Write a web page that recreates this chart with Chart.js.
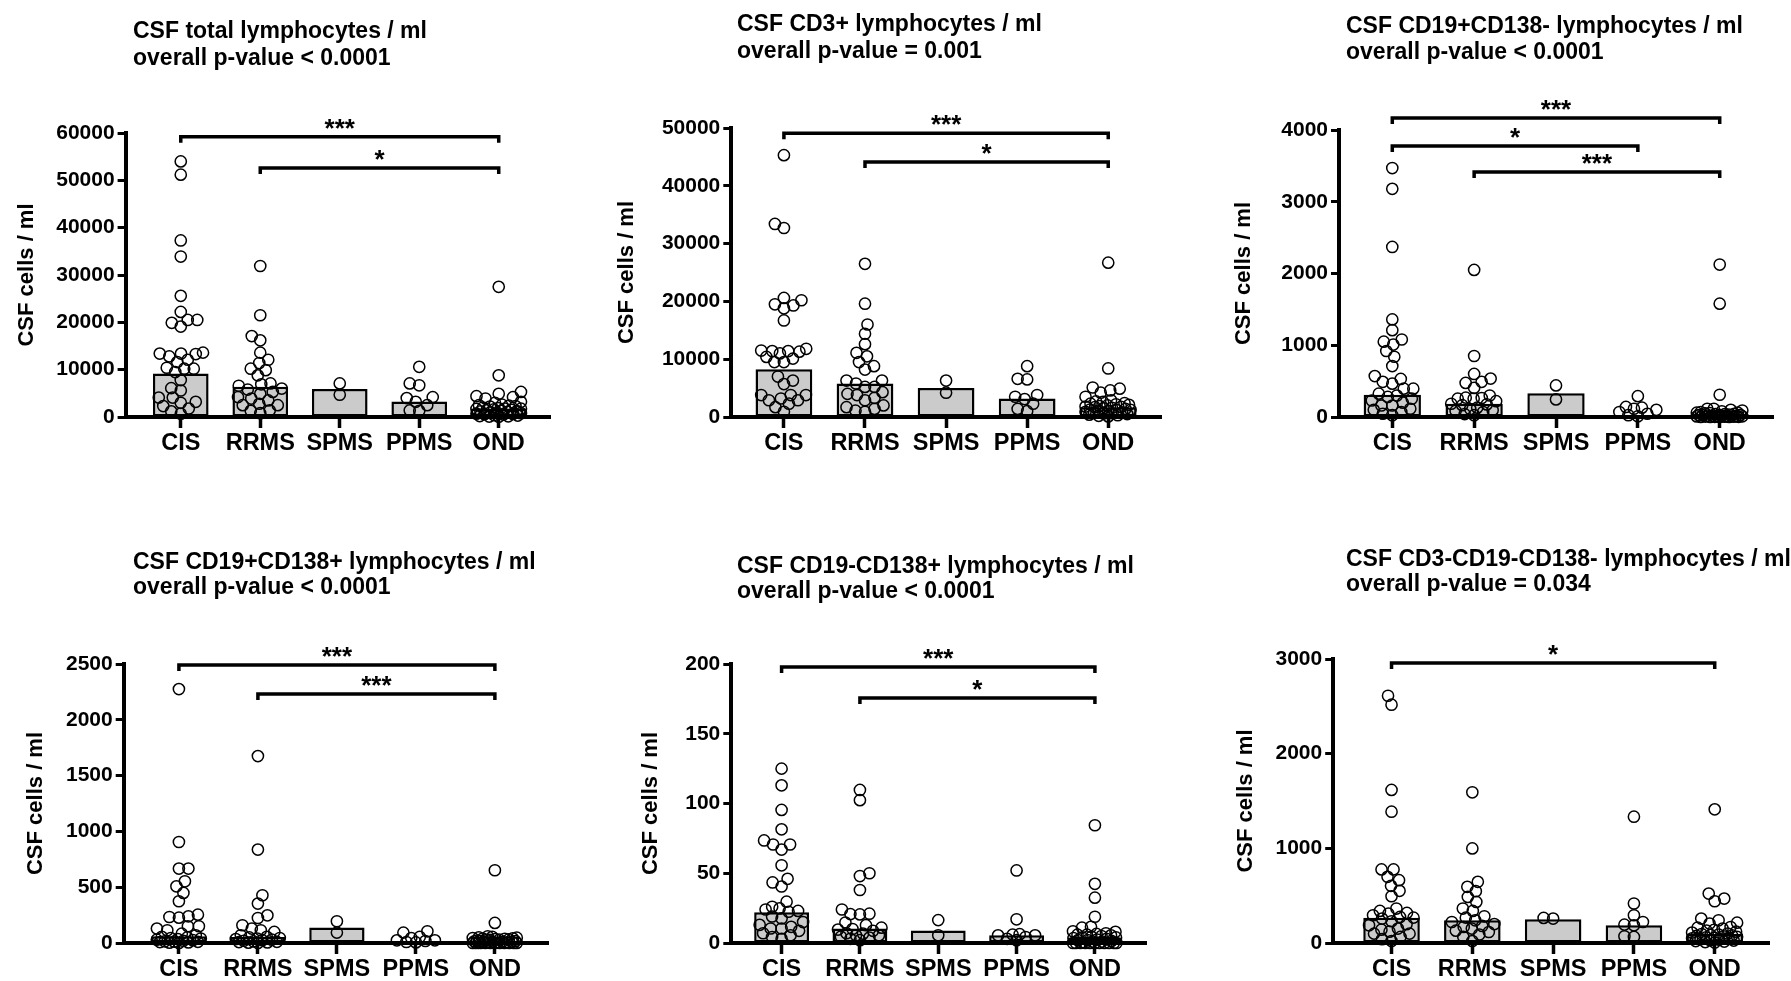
<!DOCTYPE html>
<html>
<head>
<meta charset="utf-8">
<script src="https://cdn.jsdelivr.net/npm/chart.js@4.4.0/dist/chart.umd.min.js"></script>
<style>
    body { margin: 0; background: #fff; width: 1791px; height: 981px; position: relative; overflow: hidden; }
    canvas { position: absolute; }
</style>
</head>
<body>
<canvas id="c0"></canvas>
<canvas id="c1"></canvas>
<canvas id="c2"></canvas>
<canvas id="c3"></canvas>
<canvas id="c4"></canvas>
<canvas id="c5"></canvas>
<script>
// Groups on the x axis
const groups = ['CIS', 'RRMS', 'SPMS', 'PPMS', 'OND'];

// Panel titles
const titles = [
    ['CSF total lymphocytes / ml', 'overall p-value < 0.0001'],
    ['CSF CD3+ lymphocytes / ml', 'overall p-value = 0.001'],
    ['CSF CD19+CD138- lymphocytes / ml', 'overall p-value < 0.0001'],
    ['CSF CD19+CD138+ lymphocytes / ml', 'overall p-value < 0.0001'],
    ['CSF CD19-CD138+ lymphocytes / ml', 'overall p-value < 0.0001'],
    ['CSF CD3-CD19-CD138- lymphocytes / ml', 'overall p-value = 0.034']
];

// Y axis ranges
const yMaxes = [60000, 50000, 4000, 2500, 200, 3000];
const ySteps = [10000, 10000, 1000, 500, 50, 1000];

// Individual values (cells / ml), one list per group: CIS, RRMS, SPMS, PPMS, OND
const totalPoints = [
    [54000, 51200, 37300, 33900, 25600, 22200, 20500, 20500, 19900, 19100, 13600, 13400, 13400, 13300, 12800, 12100,
     11600, 10400, 10200, 10200, 9500, 7800, 6100, 5600, 4100, 4100, 3200, 3000, 2300, 1800, 1200, 700],
    [31900, 21500, 17100, 16200, 13600, 12100, 11400, 10200, 9900, 8800, 7100, 6900, 6600, 6000, 5800, 5300,
     4900, 4200, 3900, 3500, 2800, 2500, 2500, 1400, 1300, 800],
    [4700, 7100],
    [10600, 7100, 6700, 4200, 4000, 3200, 2500, 1400, 1300],
    [27500, 8800, 5300, 4900, 4400, 4200, 3900, 3200, 3000, 2600, 2500, 2400, 2300, 2200, 2000, 1900, 1800, 1750,
     1700, 1600, 1500, 1400, 1300, 1250, 1200, 1100, 1000, 900, 800, 700, 650, 600, 500, 400, 300, 200, 150, 100, 50]
];
const cd3Points = [
    [45300, 33400, 32700, 20600, 20200, 19500, 19300, 18800, 16700, 11800, 11500, 11400, 11400, 11300, 11000, 10400,
     10100, 9500, 9500, 7000, 6300, 5700, 3800, 3800, 3800, 3200, 2900, 2900, 2300, 1700, 900],
    [26500, 19600, 16000, 14400, 12600, 11100, 10500, 9500, 8800, 8200, 6300, 6300, 5800, 5200, 5200, 4300,
     4000, 3800, 3300, 2900, 2000, 1700, 1400, 1100, 900],
    [4200, 6300],
    [8800, 6600, 6500, 3800, 3500, 3100, 2300, 1400, 1000],
    [26700, 8400, 5100, 4900, 4600, 4200, 3500, 2900, 2700, 2600, 2400, 2300, 2200, 2100, 2000, 1900, 1800, 1750,
     1700, 1600, 1500, 1400, 1300, 1250, 1200, 1100, 1000, 900, 800, 700, 650, 600, 500, 400, 300, 200, 100]
];
const cd19Points = [
    [3470, 3180, 2370, 1360, 1210, 1080, 1050, 1010, 920, 840, 710, 570, 530, 490, 465, 395, 395, 325, 300, 280,
     255, 230, 200, 160, 160, 115, 100, 70, 45, 25],
    [2050, 850, 600, 535, 490, 475, 405, 300, 270, 265, 255, 255, 220, 185, 175, 165, 130, 110, 95, 85, 70, 40, 25],
    [245, 440],
    [290, 140, 130, 115, 100, 70, 45, 25, 10],
    [2125, 1580, 310, 115, 115, 100, 90, 80, 70, 60, 60, 55, 50, 45, 40, 40, 35, 30, 30, 28, 25, 22, 20, 20, 18,
     15, 12, 10, 10, 8, 6, 5, 4, 3, 2, 1, 0, 0, 0]
];
const plasmaPoints = [
    [2275, 905, 667, 667, 553, 508, 449, 374, 254, 239, 233, 227, 150, 150, 129, 114, 84, 69, 55, 50, 45, 40, 35,
     30, 25, 20, 15, 12, 10, 8, 5, 3, 0],
    [1675, 837, 428, 353, 248, 224, 159, 129, 114, 99, 69, 55, 50, 45, 40, 35, 30, 25, 20, 15, 10, 8, 5, 3, 0],
    [93, 195],
    [105, 93, 54, 45, 24, 24, 18, 9, 5],
    [652, 180, 60, 55, 50, 48, 45, 42, 40, 38, 35, 32, 30, 28, 25, 22, 20, 18, 15, 12, 10, 8, 6, 5, 4, 3, 2, 1,
     0, 0, 0, 0, 0, 0, 0, 0, 0, 0]
];
const cd138Points = [
    [125, 113, 95.4, 81.5, 73.5, 70.6, 70.6, 67, 55.7, 46, 43.4, 40.5, 29.6, 26, 24.8, 24, 23, 22.4, 19, 17.6, 15,
     13, 11.6, 10.4, 10.4, 8.7, 7, 5.5, 4.3, 3],
    [109.7, 102.4, 50, 48, 38, 24, 21, 20.7, 20.5, 14.7, 12.8, 11, 10, 9.6, 8.7, 7, 6.7, 5.5, 5.5, 4.5, 3.9, 3, 2],
    [5.5, 16.4],
    [52, 17, 6.3, 6, 5.5, 5.5, 4.3, 3, 2],
    [84.4, 42.4, 32.5, 18.8, 11.6, 11, 8.4, 8, 7, 6.5, 6, 6, 5.5, 5, 4.5, 4, 4, 3.5, 3, 2.5, 2, 2, 1.5, 1, 1, 0.5,
     0, 0, 0, 0, 0, 0, 0, 0, 0, 0, 0]
];
const otherPoints = [
    [2612, 2517, 1617, 1387, 777, 777, 699, 664, 604, 551, 494, 364, 339, 318, 310, 293, 275, 268, 258, 230, 198,
     187, 152, 141, 120, 99, 99, 64, 40, 21],
    [1592, 999, 646, 593, 547, 487, 434, 364, 339, 282, 268, 240, 222, 200, 180, 169, 152, 130, 116, 90, 64, 21],
    [258, 265],
    [1334, 417, 293, 222, 194, 187, 71, 64],
    [1412, 522, 469, 441, 258, 240, 215, 205, 169, 162, 152, 140, 130, 120, 110, 100, 95, 90, 85, 80, 75, 70, 65,
     60, 55, 50, 45, 40, 35, 30, 25, 20, 15, 10, 5]
];
const panelPoints = [totalPoints, cd3Points, cd19Points, plasmaPoints, cd138Points, otherPoints];

// Medians shown as bars
const panelMedians = [
    [9200, 6400, 5900, 3300, 1800],
    [8250, 5800, 5000, 3200, 1700],
    [310, 185, 330, 25, 45],
    [60, 54, 138, 9, 18],
    [22, 10.4, 9, 5.5, 4],
    [268, 240, 250, 187, 99]
];

// Significance brackets: [from group, to group, height (data units), label]
const panelBrackets = [
    [[0, 4, 59200, '***'], [1, 4, 52600, '*']],
    [[0, 4, 49100, '***'], [1, 4, 44100, '*']],
    [[0, 4, 4167, '***'], [0, 3, 3777, '*'], [1, 4, 3415, '***']],
    [[0, 4, 2491, '***'], [1, 4, 2231, '***']],
    [[0, 4, 197.8, '***'], [1, 4, 175.6, '*']],
    [[0, 4, 2957, '*']]
];

// Page layout of each panel (pixels)
const layoutBoxes = [
    { left: 0,    top: 0,   w: 600, h: 500, axisX: 125.6,  xEnd: 550,    yTop: 133, xMin: -0.694, xMax: 4.645, titleX: 133,  titleY: [32, 59],   yTitleX: 26.6 },
    { left: 600,  top: 0,   w: 600, h: 500, axisX: 731.3,  xEnd: 1161.5, yTop: 128, xMin: -0.649, xMax: 4.657, titleX: 737,  titleY: [25, 52],   yTitleX: 626.6 },
    { left: 1200, top: 0,   w: 591, h: 500, axisX: 1339,   xEnd: 1773,   yTop: 130, xMin: -0.651, xMax: 4.651, titleX: 1346, titleY: [27, 53],   yTitleX: 1243.8 },
    { left: 0,    top: 500, w: 600, h: 481, axisX: 123.7,  xEnd: 548.2,  yTop: 664, xMin: -0.699, xMax: 4.675, titleX: 133,  titleY: [563, 588], yTitleX: 36.2 },
    { left: 600,  top: 500, w: 600, h: 481, axisX: 731.3,  xEnd: 1146.3, yTop: 664, xMin: -0.642, xMax: 4.656, titleX: 737,  titleY: [567, 592], yTitleX: 651.4 },
    { left: 1200, top: 500, w: 591, h: 481, axisX: 1333.2, xEnd: 1769.1, yTop: 659, xMin: -0.722, xMax: 4.673, titleX: 1346, titleY: [560, 585], yTitleX: 1245.7 }
];
const yZeros = [417, 417, 417, 943, 943, 943];

const FONT = "'Liberation Sans', Arial, Helvetica, sans-serif";

// Titles and significance brackets
const annotationPlugin = {
    id: 'panelAnnotations',
    afterDraw(chart, args, opts) {
        const { ctx } = chart;
        const box = opts.box;
        const xs = chart.scales.x, ys = chart.scales.y;
        ctx.save();
        ctx.fillStyle = '#000';
        ctx.textAlign = 'left';
        ctx.textBaseline = 'middle';
        ctx.font = 'bold 23px ' + FONT;
        opts.title.forEach((line, k) => {
            ctx.fillText(line, box.titleX - box.left, box.titleY[k] - box.top);
        });

        ctx.strokeStyle = '#000';
        ctx.lineWidth = 3.5;
        ctx.lineCap = 'butt';
        ctx.textAlign = 'center';
        ctx.textBaseline = 'alphabetic';
        ctx.font = 'bold 26px ' + FONT;
        opts.brackets.forEach(([from, to, value, label]) => {
            const x1 = xs.getPixelForValue(from);
            const x2 = xs.getPixelForValue(to);
            const y = ys.getPixelForValue(value);
            ctx.beginPath();
            ctx.moveTo(x1, y + 6);
            ctx.lineTo(x1, y);
            ctx.lineTo(x2, y);
            ctx.lineTo(x2, y + 6);
            ctx.stroke();
            ctx.fillText(label, (x1 + x2) / 2, y);
        });
        ctx.restore();
    }
};

// Beeswarm layout: push each point sideways until it overlaps little enough
function swarm(chart, pointsByGroup) {
    const xs = chart.scales.x, ys = chart.scales.y;
    const ppu = xs.getPixelForValue(1) - xs.getPixelForValue(0);
    const gap = 9.5;
    const maxHalf = 0.28 * ppu;
    const data = [];
    pointsByGroup.forEach((vals, g) => {
        const placed = [];
        const sorted = vals.slice().sort((a, b) => a - b);
        sorted.forEach((v, n) => {
            const py = ys.getPixelForValue(v);
            const side = n % 2 === 0 ? 1 : -1;
            const minDist = off => placed.reduce((m, p) => Math.min(m, Math.hypot(p.ox - off, p.py - py)), Infinity);
            let chosen = null;
            for (let d = 0; d <= maxHalf && chosen === null; d += 0.5) {
                for (const s of [side, -side]) {
                    if (minDist(s * d) >= gap) { chosen = s * d; break; }
                }
            }
            if (chosen === null) {
                let best = -1;
                for (let off = -maxHalf; off <= maxHalf; off += 0.5) {
                    const md = minDist(off);
                    if (md > best) { best = md; chosen = off; }
                }
            }
            placed.push({ ox: chosen, py: py });
            data.push({ x: g + chosen / ppu, y: v });
        });
    });
    chart.data.datasets[0].data = data;
    chart.update('none');
}

function makePanel(i) {
    const box = layoutBoxes[i];
    const canvas = document.getElementById('c' + i);
    canvas.width = box.w;
    canvas.height = box.h;
    canvas.style.left = box.left + 'px';
    canvas.style.top = box.top + 'px';
    canvas.style.width = box.w + 'px';
    canvas.style.height = box.h + 'px';

    const points = panelPoints[i];
    const initial = [];
    points.forEach((vals, g) => vals.forEach(v => initial.push({ x: g, y: v })));

    const yTitleLine = 22 * 1.2;
    const chart = new Chart(canvas, {
        type: 'bar',
        data: {
            datasets: [
                {
                    type: 'scatter',
                    data: initial,
                    order: 0,
                    clip: false,
                    pointRadius: 5.6,
                    pointHoverRadius: 5.6,
                    pointBorderWidth: 1.5,
                    pointBackgroundColor: 'rgba(0,0,0,0)',
                    pointBorderColor: '#000'
                },
                {
                    type: 'bar',
                    data: panelMedians[i].map((m, g) => ({ x: g, y: m })),
                    order: 1,
                    clip: false,
                    backgroundColor: '#cbcbcb',
                    borderColor: '#000',
                    borderWidth: 2.5,
                    borderSkipped: false,
                    barPercentage: 0.7,
                    categoryPercentage: 1
                }
            ]
        },
        options: {
            responsive: false,
            animation: false,
            devicePixelRatio: 1,
            layout: {
                padding: { top: box.yTop - box.top, right: box.left + box.w - box.xEnd, left: 0, bottom: 0 }
            },
            plugins: {
                legend: { display: false },
                tooltip: { enabled: false },
                panelAnnotations: { box: box, title: titles[i], brackets: panelBrackets[i] }
            },
            scales: {
                x: {
                    type: 'linear',
                    offset: false,
                    min: box.xMin,
                    max: box.xMax,
                    afterBuildTicks: axis => { axis.ticks = groups.map((_, k) => ({ value: k })); },
                    afterFit: axis => { axis.height = box.top + box.h - yZeros[i]; },
                    ticks: {
                        callback: v => groups[v],
                        color: '#000',
                        font: { family: FONT, weight: 'bold', size: 23.5 },
                        padding: 1,
                        maxRotation: 0,
                        autoSkip: false
                    },
                    grid: {
                        offset: false,
                        drawOnChartArea: false,
                        drawTicks: true,
                        tickLength: 11,
                        tickWidth: 3.5,
                        tickColor: '#000',
                        color: '#000'
                    },
                    border: { display: true, color: '#000', width: 4 }
                },
                y: {
                    min: 0,
                    max: yMaxes[i],
                    afterFit: axis => { axis.width = box.axisX - box.left; },
                    ticks: {
                        stepSize: ySteps[i],
                        callback: v => String(v),
                        color: '#000',
                        font: { family: FONT, weight: 'bold', size: 21 },
                        padding: 3
                    },
                    grid: {
                        drawOnChartArea: false,
                        drawTicks: true,
                        tickLength: 8,
                        tickWidth: 3,
                        tickColor: '#000',
                        color: '#000'
                    },
                    border: { display: true, color: '#000', width: 4 },
                    title: {
                        display: true,
                        text: 'CSF cells / ml',
                        color: '#000',
                        font: { family: FONT, weight: 'bold', size: 22 },
                        padding: { top: box.yTitleX - box.left - yTitleLine / 2, bottom: 0 }
                    }
                }
            }
        },
        plugins: [annotationPlugin]
    });
    swarm(chart, points);
}

for (let i = 0; i < 6; i++) makePanel(i);
</script>
</body>
</html>
